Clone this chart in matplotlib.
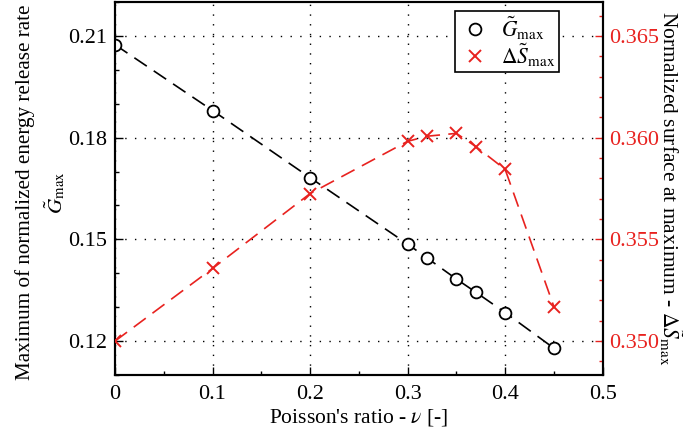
import matplotlib
matplotlib.use("Agg")
import matplotlib.pyplot as plt
from matplotlib.ticker import MultipleLocator

plt.rcParams['font.family'] = ['Liberation Serif', 'DejaVu Serif']
plt.rcParams['mathtext.fontset'] = 'stix'

# Poisson's ratio and the two results
nu = [0.0, 0.1, 0.2, 0.3, 0.32, 0.35, 0.37, 0.4, 0.45]
g_max = [0.2074, 0.1880, 0.1682, 0.1486, 0.1445, 0.1383, 0.1344, 0.1284, 0.1179]
ds_max = [0.3500, 0.35357, 0.35725, 0.35982, 0.36007, 0.36021, 0.35956, 0.35844, 0.35169]

x_ticks = [0, 0.1, 0.2, 0.3, 0.4, 0.5]
x_tick_labels = ['0', '0.1', '0.2', '0.3', '0.4', '0.5']

fig = plt.figure(figsize=(6.83, 4.36), dpi=100)
ax = fig.add_axes([0.1684, 0.1399, 0.7140, 0.8555])
ax2 = ax.twinx()

ax.plot(nu, g_max, color='black', linestyle=(0, (9, 5)), linewidth=1.2,
        marker='o', markersize=8.5, markerfacecolor='white', markeredgewidth=1.3,
        markeredgecolor='black', label=r'$\tilde{G}_{\mathrm{max}}$', zorder=3)
ax2.plot(nu, ds_max, color='#e8221f', linestyle=(0, (9, 5)), linewidth=1.2,
         marker='x', markersize=9, markeredgewidth=1.4,
         label=r'$\mathit{\Delta}\tilde{S}_{\mathrm{max}}$', zorder=3)

ax.set_xlim(0, 0.5)
ax.set_ylim(0.11, 0.22)
ax2.set_ylim(0.35 - 0.01 / 6, 0.365 + 0.01 / 6)

ax.set_xticks(x_ticks)
ax.set_xticklabels(x_tick_labels)
ax.xaxis.set_minor_locator(MultipleLocator(0.05))
ax.yaxis.set_minor_locator(MultipleLocator(0.01))
ax.set_yticks([0.12, 0.15, 0.18, 0.21])
ax.set_yticklabels(['0.12', '0.15', '0.18', '0.21'])
ax2.set_yticks([0.350, 0.355, 0.360, 0.365])
ax2.set_yticklabels(['0.350', '0.355', '0.360', '0.365'])
ax2.yaxis.set_minor_locator(MultipleLocator(0.001))

ax.tick_params(axis='both', which='both', direction='in', labelsize=16,
               top=False, right=False)
ax.tick_params(which='major', length=6, width=1)
ax.tick_params(which='minor', length=3, width=1)
ax.tick_params(axis='x', pad=7)
ax.tick_params(axis='y', pad=6)
ax2.tick_params(axis='y', which='both', direction='in', colors='#e8221f',
                labelsize=16, width=1, pad=5)
ax2.tick_params(which='major', length=6)
ax2.tick_params(which='minor', length=3)

for sp in ax.spines.values():
    sp.set_linewidth(1.5)
for sp in ax2.spines.values():
    sp.set_linewidth(1.5)
    sp.set_color('black')

ax.grid(True, which='major', color='black', linestyle=(0, (1, 6)), linewidth=1)

ax.set_xlabel(r"Poisson's ratio - $\nu$ [-]", fontsize=15.5, labelpad=2)
ax.set_ylabel("Maximum of normalized energy release rate\n" + r"$\tilde{G}_{\mathrm{max}}$",
              fontsize=15.2, linespacing=1.4)
ax.yaxis.set_label_coords(-0.097, 0.49)
ax2.set_ylabel(r"Normalized surface at maximum - $\mathit{\Delta}\tilde{S}_{\mathrm{max}}$",
               fontsize=15.5, rotation=270)
ax2.yaxis.label.set_verticalalignment('bottom')
ax2.yaxis.set_label_coords(1.112, 0.5)

h1, l1 = ax.get_legend_handles_labels()
h2, l2 = ax2.get_legend_handles_labels()
leg = ax2.legend(h1 + h2, l1 + l2, loc='upper right', bbox_to_anchor=(0.91, 0.975),
                 fontsize=15.5, fancybox=False, edgecolor='black', framealpha=1,
                 handlelength=1.6, handletextpad=0.4, borderpad=0.15,
                 labelspacing=0.0, borderaxespad=0)
leg.get_frame().set_linewidth(1.2)
for line in leg.get_lines():
    line.set_linestyle('none')

fig.savefig('out.png', dpi=100)
